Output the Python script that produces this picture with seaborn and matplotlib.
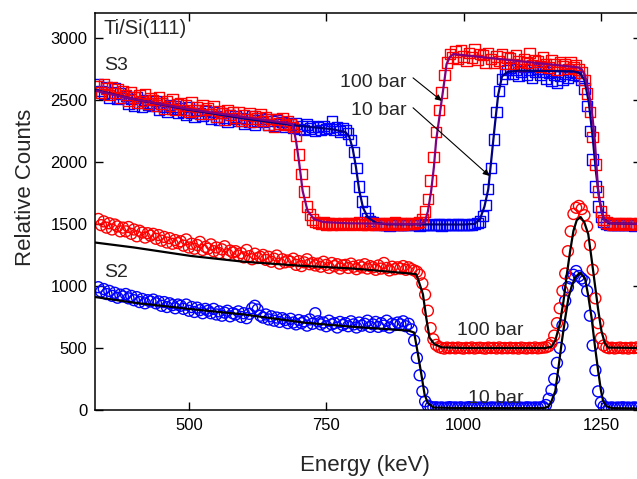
import numpy as np
import matplotlib
matplotlib.use("Agg")
import matplotlib.pyplot as plt
import seaborn as sns

# channel energies (keV), 5 keV per channel
energy_kev = np.arange(335, 1321, 5)

# S3, squares
s3_100bar = [
    2610, 2560, 2630, 2590, 2540, 2600, 2555, 2585, 2520, 2570,
    2540, 2495, 2560, 2520, 2475, 2535, 2490, 2545, 2470, 2510,
    2500, 2455, 2520, 2470, 2430, 2490, 2450, 2505, 2420, 2465,
    2470, 2420, 2455, 2400, 2480, 2415, 2440, 2385, 2460, 2420,
    2430, 2385, 2445, 2360, 2410, 2395, 2340, 2420, 2380, 2400,
    2355, 2400, 2330, 2380, 2345, 2395, 2320, 2370, 2350, 2385,
    2330, 2360, 2300, 2345, 2280, 2340, 2310, 2355, 2295, 2330,
    2305, 2280, 2210, 2060, 1900, 1760, 1640, 1575, 1535, 1515,
    1505, 1498, 1510, 1495, 1502, 1490, 1507, 1500, 1493, 1505,
    1498, 1508, 1492, 1503, 1497, 1510, 1495, 1500, 1490, 1506,
    1500, 1494, 1508, 1497, 1503, 1491, 1505, 1499, 1510, 1496,
    1502, 1495, 1507, 1498, 1503, 1500, 1508, 1515, 1540, 1600,
    1700, 1850, 2040, 2240, 2420, 2560, 2700, 2800, 2870, 2840,
    2890, 2830, 2900, 2850, 2815, 2880, 2840, 2905, 2820, 2870,
    2860, 2800, 2880, 2830, 2795, 2850, 2815, 2870, 2790, 2840,
    2835, 2790, 2860, 2810, 2775, 2830, 2800, 2880, 2780, 2820,
    2810, 2770, 2845, 2790, 2760, 2820, 2785, 2740, 2805, 2775,
    2790, 2750, 2800, 2760, 2780, 2745, 2720, 2660, 2550, 2400,
    2200, 1980, 1760, 1600, 1530, 1510, 1503, 1496, 1505, 1499,
    1502, 1495, 1507, 1498, 1503, 1494, 1500, 1505,
]
s3_10bar = [
    2630, 2570, 2545, 2600, 2520, 2560, 2590, 2505, 2550, 2515,
    2530, 2470, 2505, 2450, 2520, 2480, 2440, 2500, 2460, 2475,
    2455, 2490, 2420, 2470, 2440, 2400, 2460, 2425, 2445, 2395,
    2430, 2405, 2380, 2440, 2395, 2360, 2420, 2390, 2375, 2410,
    2385, 2350, 2400, 2365, 2340, 2395, 2355, 2320, 2380, 2345,
    2365, 2330, 2355, 2310, 2345, 2320, 2370, 2300, 2335, 2350,
    2320, 2345, 2300, 2330, 2290, 2335, 2305, 2320, 2285, 2310,
    2300, 2275, 2310, 2265, 2290, 2255, 2300, 2270, 2285, 2250,
    2280, 2255, 2290, 2265, 2275, 2330, 2260, 2280, 2245, 2270,
    2255, 2230, 2175, 2080, 1950, 1800, 1680, 1600, 1550, 1525,
    1510, 1500, 1493, 1497, 1490, 1495, 1488, 1494, 1491, 1496,
    1490, 1495, 1489, 1493, 1497, 1490, 1494, 1488, 1495, 1491,
    1493, 1489, 1496, 1490, 1494, 1488, 1495, 1491, 1490, 1496,
    1490, 1494, 1489, 1495, 1491, 1493, 1496, 1500, 1505, 1520,
    1565, 1650, 1780, 1950, 2180, 2400, 2570, 2670, 2710, 2740,
    2760, 2710, 2745, 2690, 2730, 2770, 2700, 2740, 2680, 2725,
    2750, 2700, 2730, 2670, 2720, 2650, 2700, 2640, 2690, 2660,
    2710, 2680, 2730, 2700, 2720, 2690, 2660, 2590, 2450, 2250,
    2020, 1800, 1640, 1555, 1515, 1500, 1494, 1490, 1496, 1491,
    1493, 1489, 1495, 1490, 1494, 1488, 1492, 1495,
]

# S2, circles
s2_100bar = [
    1540, 1490, 1520, 1470, 1505, 1455, 1495, 1480, 1440, 1470,
    1440, 1475, 1420, 1455, 1400, 1445, 1430, 1390, 1425, 1405,
    1420, 1380, 1410, 1365, 1395, 1350, 1385, 1340, 1370, 1345,
    1360, 1325, 1375, 1310, 1340, 1300, 1330, 1355, 1290, 1315,
    1300, 1335, 1280, 1310, 1265, 1295, 1320, 1255, 1285, 1270,
    1280, 1245, 1265, 1230, 1290, 1240, 1215, 1260, 1225, 1235,
    1250, 1210, 1235, 1195, 1220, 1245, 1180, 1215, 1190, 1205,
    1195, 1220, 1170, 1200, 1160, 1190, 1215, 1175, 1185, 1165,
    1180, 1155, 1195, 1170, 1145, 1185, 1160, 1175, 1140, 1165,
    1170, 1145, 1180, 1155, 1135, 1165, 1150, 1175, 1140, 1160,
    1150, 1130, 1165, 1140, 1185, 1145, 1125, 1155, 1135, 1150,
    1140, 1160, 1130, 1150, 1135, 1125, 1115, 1090, 1020, 930,
    800, 660, 570, 525, 508, 500, 495, 503, 498, 502,
    497, 503, 499, 495, 501, 498, 504, 496, 500, 502,
    498, 495, 503, 499, 501, 496, 504, 497, 500, 498,
    502, 497, 500, 495, 503, 499, 496, 501, 498, 504,
    497, 500, 503, 505, 515, 540, 600, 700, 820, 960,
    1100, 1280, 1440, 1580, 1630, 1645, 1620, 1570, 1480, 1330,
    1130, 900, 700, 580, 520, 505, 498, 502, 496, 500,
    503, 497, 500, 495, 502, 499, 504, 498,
]
s2_10bar = [
    990, 955, 975, 935, 960, 920, 945, 905, 930, 915,
    935, 900, 920, 885, 910, 870, 895, 860, 885, 875,
    890, 860, 875, 840, 870, 830, 860, 845, 820, 850,
    840, 815, 850, 800, 830, 790, 825, 805, 780, 815,
    800, 780, 815, 770, 795, 760, 785, 800, 755, 780,
    770, 795, 750, 780, 740, 775, 820, 840, 810, 760,
    745, 770, 730, 755, 720, 745, 710, 740, 725, 700,
    735, 705, 690, 725, 700, 715, 680, 730, 695, 780,
    715, 690, 705, 675, 720, 690, 700, 665, 710, 685,
    700, 675, 715, 690, 665, 705, 680, 695, 720, 670,
    690, 710, 670, 700, 680, 720, 665, 695, 685, 705,
    690, 715, 675, 695, 650, 560, 420, 280, 150, 70,
    35, 25, 20, 22, 18, 21, 17, 20, 23, 19,
    21, 18, 22, 17, 20, 23, 19, 21, 18, 20,
    22, 19, 17, 21, 20, 18, 23, 19, 21, 17,
    20, 22, 18, 21, 19, 17, 22, 20, 18, 21,
    19, 21, 25, 40, 90, 160, 250, 380, 500, 680,
    880, 990, 1060, 1090, 1120, 1080, 1060, 1040, 960, 760,
    520, 320, 150, 60, 30, 20, 18, 21, 17, 20,
    19, 22, 18, 20, 17, 21, 19, 18,
]

# simulated fits
fit_s3_100_x = [329, 400, 500, 600, 650, 680, 689, 695, 701, 707, 716, 728, 745, 789, 900,
                920, 929, 935, 941, 946, 950, 955, 960, 965, 969, 975, 981, 1000, 1100,
                1200, 1209, 1215, 1220, 1227, 1233, 1239, 1245, 1251, 1257, 1270, 1323]
fit_s3_100_y = [2575, 2505, 2425, 2360, 2330, 2312, 2300, 2170, 1982, 1766, 1605, 1538, 1515, 1505, 1500,
                1500, 1511, 1600, 1766, 1960, 2170, 2330, 2492, 2650, 2788, 2845, 2869, 2860, 2813,
                2766, 2761, 2745, 2708, 2580, 2438, 2170, 1766, 1600, 1524, 1505, 1500]
fit_s3_10_x = [329, 400, 500, 600, 690, 760, 785, 792, 798, 804, 810, 817, 826, 840, 860, 1000,
               1020, 1030, 1038, 1045, 1051, 1057, 1063, 1070, 1080, 1100, 1200, 1212, 1220,
               1228, 1235, 1241, 1247, 1255, 1265, 1323]
fit_s3_10_y = [2580, 2505, 2420, 2350, 2295, 2264, 2240, 2200, 2110, 1960, 1770, 1630, 1550, 1510, 1497, 1495,
               1500, 1540, 1640, 1780, 2040, 2300, 2540, 2690, 2725, 2735, 2730, 2715, 2660,
               2480, 2200, 1920, 1700, 1540, 1505, 1500]
fit_s2_100_x = [329, 400, 503, 600, 710, 800, 910, 914, 920, 926, 932, 938, 947, 960, 1000, 1150,
                1160, 1167, 1175, 1182, 1188, 1194, 1200, 1206, 1213, 1220, 1227, 1233, 1239,
                1245, 1251, 1257, 1263, 1323]
fit_s2_100_y = [1350, 1310, 1242, 1195, 1161, 1140, 1097, 1094, 1015, 933, 744, 583, 530, 505, 500, 500,
                510, 560, 691, 880, 1094, 1280, 1444, 1530, 1556, 1510, 1417, 1220, 1014,
                810, 637, 540, 503, 500]
fit_s2_10_x = [329, 400, 500, 600, 710, 800, 900, 910, 917, 923, 929, 935, 945, 1000, 1145,
               1154, 1160, 1167, 1173, 1179, 1185, 1191, 1197, 1203, 1212, 1221, 1227, 1233,
               1239, 1245, 1250, 1254, 1260, 1270, 1323]
fit_s2_10_y = [911, 865, 815, 770, 704, 670, 640, 624, 449, 290, 126, 55, 20, 15, 15,
               25, 70, 153, 350, 556, 740, 906, 1000, 1067, 1107, 1062, 920, 744,
               520, 315, 160, 73, 30, 15, 12]

sns.set_style("ticks")
plt.rcParams["font.family"] = ["Liberation Sans", "DejaVu Sans"]

fig = plt.figure(figsize=(6.37, 4.79), dpi=100)
ax = fig.add_axes([95 / 637, 69 / 479, 546 / 637, 397 / 479])

# data points
sns.scatterplot(x=energy_kev, y=s2_10bar, marker="o", s=62, facecolor="none",
                edgecolor="#0000ff", linewidth=1.0, ax=ax)
sns.scatterplot(x=energy_kev, y=s2_100bar, marker="o", s=62, facecolor="none",
                edgecolor="#ff0000", linewidth=1.0, ax=ax)
sns.scatterplot(x=energy_kev, y=s3_10bar, marker="s", s=56, facecolor="none",
                edgecolor="#0000ff", linewidth=1.0, ax=ax)
sns.scatterplot(x=energy_kev, y=s3_100bar, marker="s", s=56, facecolor="none",
                edgecolor="#ff0000", linewidth=1.0, ax=ax)

# fits
sns.lineplot(x=fit_s2_10_x, y=fit_s2_10_y, estimator=None, sort=False, color="black", lw=1.6, ax=ax)
sns.lineplot(x=fit_s2_100_x, y=fit_s2_100_y, estimator=None, sort=False, color="black", lw=1.6, ax=ax)
sns.lineplot(x=fit_s3_10_x, y=fit_s3_10_y, estimator=None, sort=False, color="#000080", lw=1.6, ax=ax)
sns.lineplot(x=fit_s3_100_x, y=fit_s3_100_y, estimator=None, sort=False, color="#800080", lw=1.6, ax=ax)

ax.set_xlim(329, 1323)
ax.set_ylim(0, 3200)
ax.set_xticks([500, 750, 1000, 1250])
ax.set_yticks([0, 500, 1000, 1500, 2000, 2500, 3000])
ax.tick_params(direction="in", length=6, width=1, labelsize=12, pad=5.5,
               top=True, right=True, colors="black")
for sp in ax.spines.values():
    sp.set_visible(True)
    sp.set_linewidth(1.1)
    sp.set_color("black")

ax.set_xlabel("Energy (keV)", fontsize=16)
ax.xaxis.set_label_coords(0.4945, -0.141)
ax.xaxis.label.set_va("center")
ax.set_ylabel("Relative Counts", fontsize=16)
ax.yaxis.set_label_coords(-0.128, 0.562)
ax.yaxis.label.set_va("center")

# annotations
ax.text(345, 3073, "Ti/Si(111)", fontsize=14.5, ha="left", va="center")
ax.text(345, 2774, "S3", fontsize=14, ha="left", va="center")
ax.text(345, 1105, "S2", fontsize=14, ha="left", va="center")
ax.text(897, 2637, "100 bar", fontsize=14, ha="right", va="center")
ax.text(897, 2411, "10 bar", fontsize=14, ha="right", va="center")
ax.text(1049, 637, "100 bar", fontsize=14, ha="center", va="center")
ax.text(1058, 89, "10 bar", fontsize=14, ha="center", va="center")
arrow = dict(arrowstyle="-|>", color="black", lw=0.8, mutation_scale=9, shrinkA=0, shrinkB=0)
ax.annotate("", xy=(960, 2492), xytext=(908, 2677), arrowprops=arrow)
ax.annotate("", xy=(1047, 1887), xytext=(908, 2436), arrowprops=arrow)

fig.savefig("out.png", dpi=100)
